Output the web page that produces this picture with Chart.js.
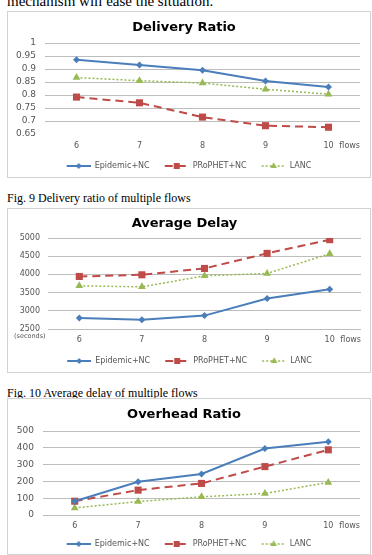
<!DOCTYPE html>
<html><head><meta charset="utf-8">
<script src="https://cdn.jsdelivr.net/npm/chart.js@4/dist/chart.umd.min.js"></script>
<style>
html,body{margin:0;padding:0;background:#fff;width:372px;height:555px;overflow:hidden;position:relative}
.txt{position:absolute;left:7px;font-family:"Liberation Serif","Times New Roman",serif;color:#000;white-space:nowrap;line-height:1;z-index:0}
.box{position:absolute;left:7px;width:364px;border:1px solid #d2d2d2;box-sizing:border-box;background:#fff;z-index:1}
.box canvas{position:absolute;left:0;top:0}
</style></head><body>
<div class="txt" style="top:-5.6px;font-size:15px">mechanism will ease the situation.</div>
<div class="txt" style="top:192px;font-size:12px">Fig. 9 Delivery ratio of multiple flows</div>
<div class="txt" style="top:387px;font-size:12px">Fig. 10 Average delay of multiple flows</div>
<div class="box" style="top:11px;height:167px"><canvas id="c1" width="362" height="165" style="width:362px;height:165px"></canvas></div>
<div class="box" style="top:208px;height:165px"><canvas id="c2" width="362" height="163" style="width:362px;height:163px"></canvas></div>
<div class="box" style="top:398px;height:157px"><canvas id="c3" width="362" height="155" style="width:362px;height:155px"></canvas></div>
<script>
const flows = ['6', '7', '8', '9', '10'];
const seriesNames = ['Epidemic+NC', 'PRoPHET+NC', 'LANC'];
const xUnit = 'flows';

const deliveryEpidemic = [0.936, 0.915, 0.895, 0.854, 0.831];
const deliveryProphet  = [0.792, 0.770, 0.715, 0.682, 0.676];
const deliveryLanc     = [0.867, 0.855, 0.846, 0.822, 0.803];
const deliveryTicks      = [0.65, 0.7, 0.75, 0.8, 0.85, 0.9, 0.95, 1];
const deliveryTickLabels = ['0.65', '0.7', '0.75', '0.8', '0.85', '0.9', '0.95', '1'];

const delayEpidemic = [2803, 2757, 2868, 3336, 3594];
const delayProphet  = [3943, 3989, 4164, 4577, 4954];
const delayLanc     = [3686, 3658, 3961, 4026, 4568];
const delayTicks      = [2500, 3000, 3500, 4000, 4500, 5000];
const delayTickLabels = ['2500', '3000', '3500', '4000', '4500', '5000'];
const delayUnit = '(seconds)';

const overheadEpidemic = [82, 198, 244, 396, 436];
const overheadProphet  = [82, 148, 188, 288, 388];
const overheadLanc     = [42, 80, 108, 128, 194];
const overheadTicks      = [0, 100, 200, 300, 400, 500];
const overheadTickLabels = ['0', '100', '200', '300', '400', '500'];

const BLUE = '#4A7EBB', RED = '#BE4B48', GREEN = '#98B954';
const GRID = '#bdbdbd';
const styles = [
  {color: BLUE, dash: [], width: 2, marker: 'rectRot', radius: 3.5},
  {color: RED, dash: [8, 5], width: 2, marker: 'rect', radius: 5},
  {color: GREEN, dash: [2, 2], width: 1.5, marker: 'triangle', radius: 4.5}
];

function makeSample(st) {
  const c = document.createElement('canvas');
  c.width = 34; c.height = 12;
  const g = c.getContext('2d');
  g.strokeStyle = st.color; g.lineWidth = st.width; g.setLineDash(st.dash);
  g.beginPath(); g.moveTo(10, 6); g.lineTo(34, 6); g.stroke();
  g.setLineDash([]);
  g.fillStyle = st.color;
  Chart.helpers.drawPoint(g, {pointStyle: st.marker, radius: st.radius * 0.85, borderWidth: 0}, 22, 6);
  return c;
}
const samples = styles.map(makeSample);

const unitNote = {
  id: 'unitNote',
  afterDraw(chart, args, opts) {
    if (!opts.text) return;
    const ctx = chart.ctx, y = chart.scales.y;
    ctx.save();
    const tf = Chart.helpers.toFont(y.options.ticks.font);
    ctx.font = tf.string;
    const w = ctx.measureText(String(y.ticks[0].label)).width;
    const cx = y.right - y.options.ticks.padding - w / 2;
    ctx.font = '6.5px "DejaVu Sans"';
    ctx.fillStyle = '#555';
    ctx.textAlign = 'center'; ctx.textBaseline = 'middle';
    ctx.fillText(opts.text, cx, y.getPixelForValue(y.ticks[0].value) + 7);
    ctx.restore();
  }
};

function build(id, cfg) {
  const datasets = cfg.data.map((d, i) => ({
    label: seriesNames[i],
    data: d,
    borderColor: styles[i].color,
    backgroundColor: styles[i].color,
    borderWidth: styles[i].width,
    borderDash: styles[i].dash,
    pointStyle: styles[i].marker,
    pointRadius: styles[i].radius,
    pointBorderWidth: 0,
    tension: 0,
    fill: false
  }));
  const gridColors = cfg.ticks.map((v, i) => (cfg.hideMin && i === 0) ? 'rgba(255,255,255,0)' : GRID);
  return new Chart(document.getElementById(id), {
    type: 'line',
    data: {labels: flows, datasets},
    plugins: cfg.unit ? [unitNote] : [],
    options: {
      responsive: false,
      animation: false,
      layout: {padding: {left: 0, right: cfg.padRight, top: 0, bottom: cfg.padBottom}},
      plugins: {
        title: {display: true, text: cfg.title, color: '#000',
          font: {family: 'DejaVu Sans', weight: 'bold', size: 13},
          padding: {top: cfg.titleTop, bottom: cfg.titleBottom}},
        legend: {position: 'bottom',
          labels: {usePointStyle: true, pointStyleWidth: 34, padding: 5, color: '#555',
            font: {family: 'DejaVu Sans', size: 8},
            generateLabels: chart => chart.data.datasets.map((ds, i) => ({
              text: ds.label, pointStyle: samples[i], fillStyle: 'transparent',
              strokeStyle: 'transparent', lineWidth: 0, hidden: false, datasetIndex: i, fontColor: '#555'
            }))}},
        tooltip: {enabled: false},
        unitNote: {text: cfg.unit || null}
      },
      scales: {
        x: {offset: true,
          grid: {display: false, drawTicks: false},
          border: {display: false},
          title: {display: true, text: xUnit, align: 'end', color: '#555',
            font: {family: 'DejaVu Sans', size: 8}, padding: {top: 0, bottom: cfg.xTitleBottom}},
          ticks: {padding: cfg.xPad, color: '#555', font: {family: 'DejaVu Sans', size: 8}, maxRotation: 0, autoSkip: false},
          afterFit: s => { s.height = cfg.xHeight; }},
        y: {min: cfg.ticks[0], max: cfg.ticks[cfg.ticks.length - 1],
          grid: {display: true, drawOnChartArea: true, drawTicks: false, lineWidth: 1, color: gridColors},
          border: {display: false},
          ticks: {padding: cfg.yPad, color: '#555', font: {family: 'DejaVu Sans', size: cfg.yFont},
            autoSkip: false, callback: (v, i) => cfg.tickLabels[i]},
          afterBuildTicks: s => { s.ticks = cfg.ticks.map(v => ({value: v})); },
          afterFit: s => { s.width = cfg.yWidth; }}
      }
    }
  });
}

build('c1', {title: 'Delivery Ratio', data: [deliveryEpidemic, deliveryProphet, deliveryLanc],
  ticks: deliveryTicks, tickLabels: deliveryTickLabels, hideMin: true,
  padRight: 10, padBottom: -3, titleTop: 7.5, titleBottom: 7.9, xHeight: 23, xPad: 7, xTitleBottom: 6.4,
  yWidth: 37, yPad: 9, yFont: 9});
build('c2', {title: 'Average Delay', data: [delayEpidemic, delayProphet, delayLanc],
  ticks: delayTicks, tickLabels: delayTickLabels, hideMin: false, unit: delayUnit,
  padRight: 9, padBottom: -3, titleTop: 7, titleBottom: 6.4, xHeight: 23, xPad: 6, xTitleBottom: 7.4,
  yWidth: 40, yPad: 8, yFont: 8});
build('c3', {title: 'Overhead Ratio', data: [overheadEpidemic, overheadProphet, overheadLanc],
  ticks: overheadTicks, tickLabels: overheadTickLabels, hideMin: false,
  padRight: 10, padBottom: -4, titleTop: 7.5, titleBottom: 8.9, xHeight: 20, xPad: 6, xTitleBottom: 4.4,
  yWidth: 35, yPad: 9, yFont: 9});
</script>
</body></html>
